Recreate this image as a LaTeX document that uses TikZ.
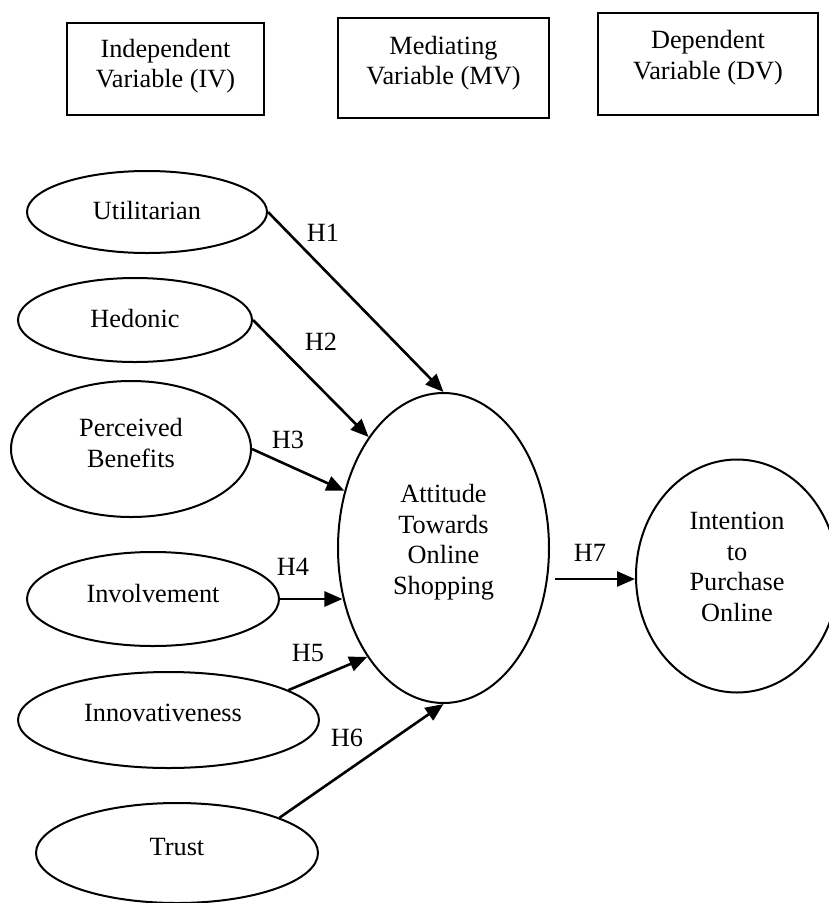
\documentclass[tikz,border=0pt]{standalone}
\usepackage{fontspec}
\setmainfont{Liberation Serif}
\usetikzlibrary{shapes.geometric,arrows.meta}
\begin{document}
\begin{tikzpicture}[x=1pt,y=-1pt,
  every node/.style={font=\fontsize{26.3}{30.5}\selectfont},
  hbox/.style={draw,line width=2pt,inner sep=0pt},
  oval/.style={draw,ellipse,line width=2pt,inner sep=0pt},
  txt/.style={align=center,inner sep=0pt},
  hlab/.style={inner sep=0pt},
  link/.style={line width=2.6pt,-{Triangle[length=18pt,width=15pt]}}]
\useasboundingbox (0,0) rectangle (829,903);
\clip (0,0) rectangle (829,903);
% header boxes
\node[hbox,minimum width=197pt,minimum height=92pt] (b1) at (165.5,69) {};
\node[txt] (t1) at (165.5,66) {Independent\\Variable (IV)};
\node[hbox,minimum width=211pt,minimum height=100pt] (b2) at (443.5,68) {};
\node[txt] (t2) at (443.5,63) {Mediating\\Variable (MV)};
\node[hbox,minimum width=220pt,minimum height=102pt] (b3) at (708,64) {};
\node[txt] (t3) at (708,57.5) {Dependent\\Variable (DV)};
% ellipses
\node[oval,minimum width=240pt,minimum height=82pt] (util) at (147,212) {};
\node[txt] (tutil) at (147,210) {Utilitarian};
\node[oval,minimum width=234pt,minimum height=84pt] (hed) at (135,320) {};
\node[txt] (thed) at (135,318) {Hedonic};
\node[oval,minimum width=240pt,minimum height=136pt] (pb) at (131,449) {};
\node[txt] (tpb) at (131,443) {Perceived\\Benefits};
\node[oval,minimum width=252pt,minimum height=94pt] (inv) at (153,599) {};
\node[txt] (tinv) at (153,593) {Involvement};
\node[oval,minimum width=301pt,minimum height=96pt] (inn) at (168.5,720) {};
\node[txt] (tinn) at (163,713) {Innovativeness};
\node[oval,minimum width=282pt,minimum height=100pt] (tru) at (177,853) {};
\node[txt] (ttru) at (177,847) {Trust};
\node[oval,minimum width=211pt,minimum height=310pt] (att) at (443.5,548) {};
\node[txt] (tatt) at (443.5,542) {Attitude\\Towards\\Online\\Shopping};
\node[oval,minimum width=202pt,minimum height=233pt] (int) at (737,576) {};
\node[txt] (tint) at (737,567) {Intention\\to\\Purchase\\Online};
% arrows
\draw[link] (util.east) -- (att.north);
\draw[link] (hed.east) -- (att.124.5);
\draw[link] (pb.east) -- (att.150.7);
\draw[link] (inv.east) -- (att.206.9 |- inv.east);
\draw[link] (inn.14.6) -- (att.235.3);
\draw[link] (tru.19.1) -- (att.south);
\coordinate (h7s) at (555,579);
\draw[link] (h7s) -- (h7s -| int.west);
% labels
\node[hlab] (l1) at (323,233) {H1};
\node[hlab] (l2) at (321,342) {H2};
\node[hlab] (l3) at (288,440) {H3};
\node[hlab] (l4) at (293,567) {H4};
\node[hlab] (l5) at (308,653) {H5};
\node[hlab] (l6) at (347,738) {H6};
\node[hlab] (l7) at (590,553) {H7};
\end{tikzpicture}
\end{document}
